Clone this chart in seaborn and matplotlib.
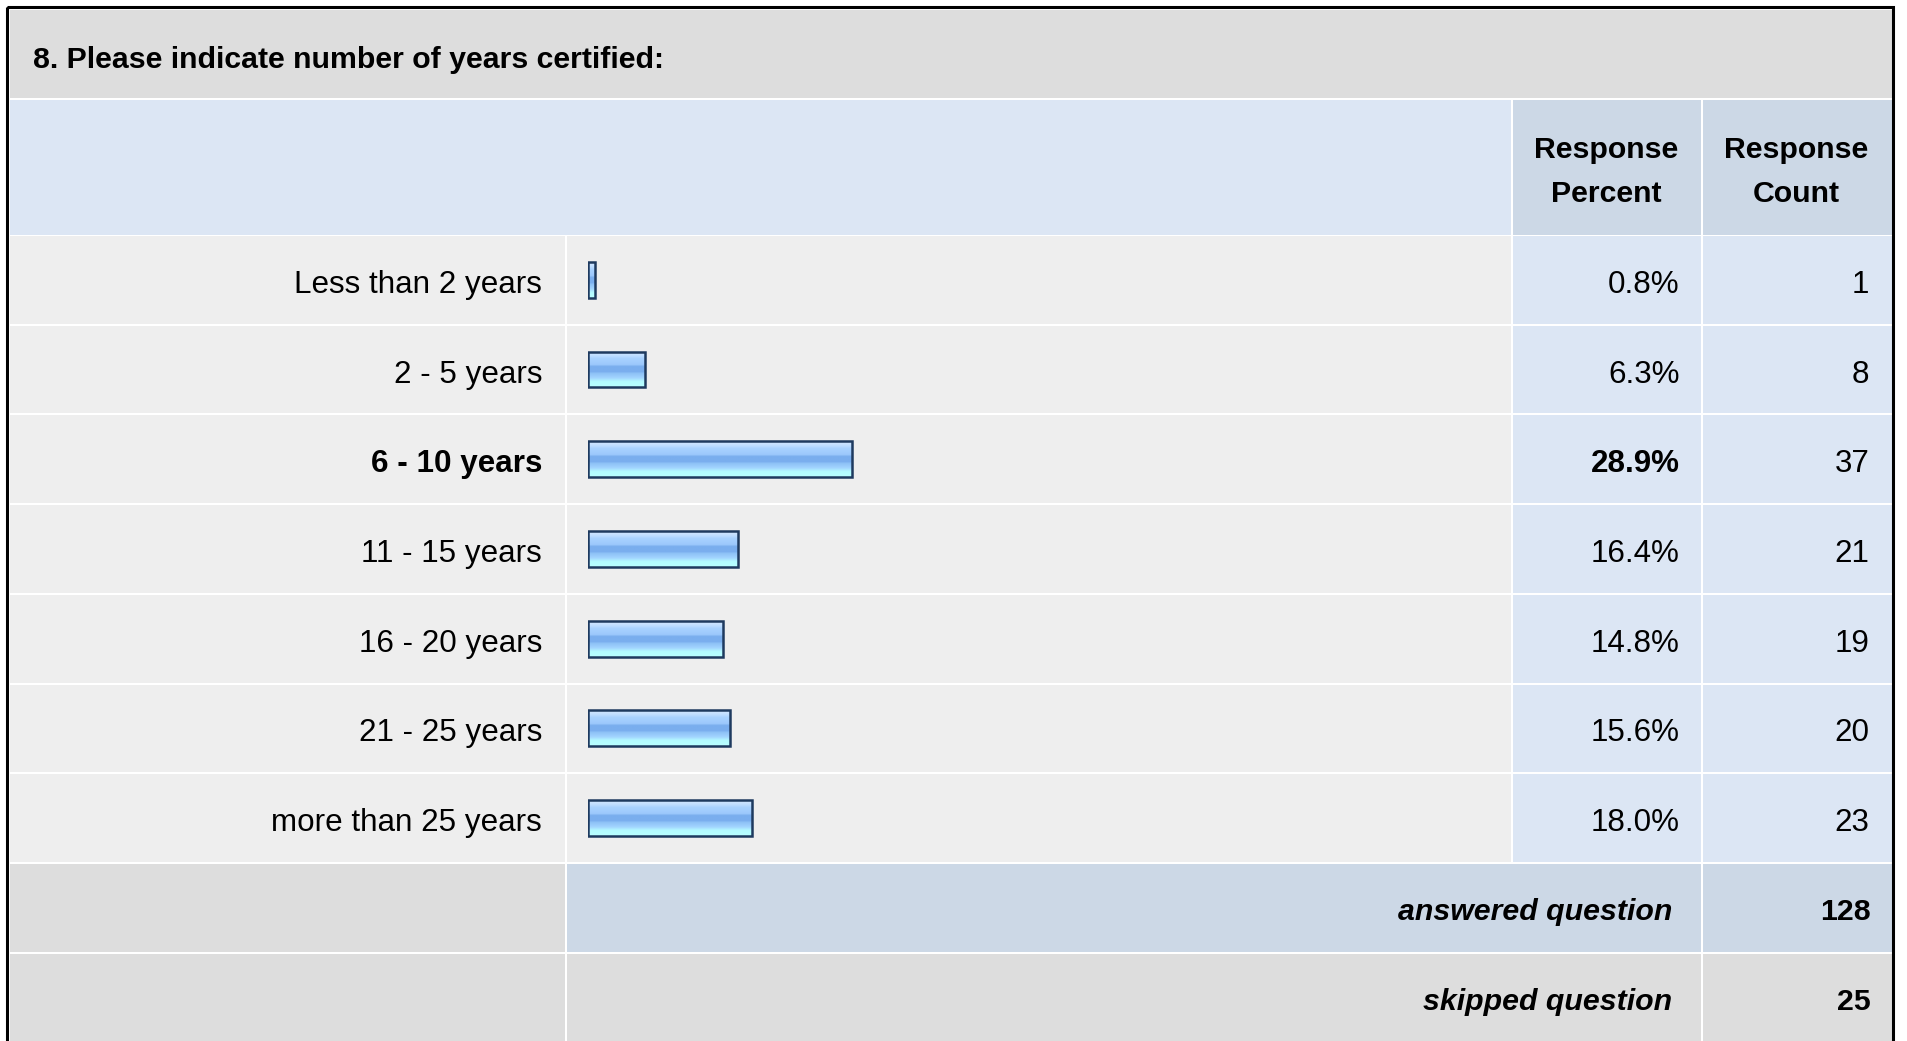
import numpy as np
import pandas as pd
import matplotlib
matplotlib.use("Agg")
import matplotlib.pyplot as plt
from matplotlib.patches import Rectangle
from matplotlib.colors import to_rgb
import seaborn as sns

# ==========================================
# DATA
# ==========================================

question = "8. Please indicate number of years certified:"

categories = [
    "Less than 2 years",
    "2 - 5 years",
    "6 - 10 years",
    "11 - 15 years",
    "16 - 20 years",
    "21 - 25 years",
    "more than 25 years"
]

percents = [0.8, 6.3, 28.9, 16.4, 14.8, 15.6, 18.0]
counts = [1, 8, 37, 21, 19, 20, 23]

answered = 128
skipped = 25

header_percent = ["Response", "Percent"]
header_count = ["Response", "Count"]

df = pd.DataFrame({
    "category": categories,
    "percent": percents,
    "count": counts
})

# ==========================================
# STYLE
# ==========================================

sns.set_style("white")
plt.rcParams["font.family"] = ["Liberation Sans", "DejaVu Sans"]
plt.rcParams["text.color"] = "black"

W, H = 1907, 1041

GREY_DARK = "#DDDDDD"
GREY_LIGHT = "#EEEEEE"
BLUE_LIGHT = "#DCE6F4"
BLUE_MID = "#CCD8E6"
NAVY = "#1E3A5F"

fs_regular = 22.6
fs_bold = 21.8

fig = plt.figure(figsize=(W / 100, H / 100), dpi=100)
fig.patch.set_facecolor("white")

# background axes in pixel coordinates (origin top-left)
ax0 = fig.add_axes([0, 0, 1, 1])
ax0.set_xlim(0, W)
ax0.set_ylim(H, 0)
ax0.axis("off")


def cell(x0, x1, y0, y1, color):
    ax0.add_patch(
        Rectangle((x0, y0), x1 - x0, y1 - y0,
                  facecolor=color, edgecolor="none", zorder=1)
    )


def txt(x, y, s, ha="right", weight="normal", style="normal", size=fs_regular):
    ax0.text(x, y, s, fontsize=size, fontweight=weight, fontstyle=style,
             ha=ha, va="baseline", color="black", zorder=3)


# column edges
X_LEFT = 10
X_LABEL = 565
X_BAR0 = 567
X_BAR1 = 1510.5
X_PCT0 = 1512.5
X_PCT1 = 1700.5
X_CNT0 = 1702.5
X_RIGHT = 1891.5

X_TXT_LABEL = 542
X_TXT_PCT = 1679.5
X_TXT_CNT = 1869.5

# ==========================================
# TITLE + HEADER
# ==========================================

cell(X_LEFT, X_RIGHT, 9.5, 97.5, GREY_DARK)
txt(33, 68, question, ha="left", weight="bold", size=fs_bold)

cell(X_LEFT, X_BAR1, 99.5, 234.5, BLUE_LIGHT)
cell(X_PCT0, X_PCT1, 99.5, 234.5, BLUE_MID)
cell(X_CNT0, X_RIGHT, 99.5, 234.5, BLUE_MID)

for k, yb in enumerate([157.5, 202.5]):
    txt(1606, yb, header_percent[k], ha="center", weight="bold", size=fs_bold)
    txt(1796, yb, header_count[k], ha="center", weight="bold", size=fs_bold)

# ==========================================
# DATA ROWS
# ==========================================

ROW_TOP = 236
ROW_STEP = 89.7
ROW_H = 87.7

max_pct = max(percents)

for i, row in df.iterrows():
    y0 = ROW_TOP + i * ROW_STEP
    y1 = y0 + ROW_H
    yb = (y0 + y1) / 2 + 13

    cell(X_LEFT, X_LABEL, y0, y1, GREY_LIGHT)
    cell(X_BAR0, X_BAR1, y0, y1, GREY_LIGHT)
    cell(X_PCT0, X_PCT1, y0, y1, BLUE_LIGHT)
    cell(X_CNT0, X_RIGHT, y0, y1, BLUE_LIGHT)

    weight = "bold" if row["percent"] == max_pct else "normal"

    txt(X_TXT_LABEL, yb, row["category"], weight=weight)
    txt(X_TXT_PCT, yb, f"{row['percent']:.1f}%", weight=weight)
    txt(X_TXT_CNT, yb, f"{row['count']}")

# ==========================================
# ANSWERED / SKIPPED
# ==========================================

cell(X_LEFT, X_LABEL, 864, 951.5, GREY_DARK)
cell(X_BAR0, X_PCT1, 864, 951.5, BLUE_MID)
cell(X_CNT0, X_RIGHT, 864, 951.5, BLUE_MID)

cell(X_LEFT, X_LABEL, 953.5, H + 5, GREY_DARK)
cell(X_BAR0, X_PCT1, 953.5, H + 5, GREY_DARK)
cell(X_CNT0, X_RIGHT, 953.5, H + 5, GREY_DARK)

txt(1672, 920.5, "answered question", weight="bold", style="italic", size=fs_bold)
txt(1870.5, 920.5, f"{answered}", weight="bold", size=fs_bold)

txt(1672, 1010.5, "skipped question", weight="bold", style="italic", size=fs_bold)
txt(1870.5, 1010.5, f"{skipped}", weight="bold", size=fs_bold)

# outer black frame
ax0.add_patch(
    Rectangle((7, 7), 1886, H + 20, facecolor="none",
              edgecolor="black", linewidth=2.2, zorder=4)
)

# ==========================================
# BARS (seaborn)
# ==========================================

BAR_X0 = 588
BAR_SCALE = 9.12  # px per percent
axb_top = ROW_TOP - 1
axb_bottom = ROW_TOP - 1 + ROW_STEP * len(categories)

axb = fig.add_axes([
    BAR_X0 / W,
    1 - axb_bottom / H,
    BAR_SCALE * 100 / W,
    (axb_bottom - axb_top) / H
])
axb.patch.set_alpha(0)

sns.barplot(
    data=df,
    x="percent",
    y="category",
    orient="h",
    order=categories,
    width=0.40,
    color="#9ECAFA",
    ax=axb
)

axb.set_xlim(0, 100)
axb.set_ylim(len(categories) - 0.5, -0.5)
axb.axis("off")

# glossy vertical gradient inside each bar
stops = [
    (0.00, "#D2E8FF"),
    (0.10, "#C4E0FF"),
    (0.20, "#A8D2FF"),
    (0.38, "#9CC8FC"),
    (0.42, "#7AAEEE"),
    (0.58, "#7AAEEE"),
    (0.62, "#8EC2F6"),
    (0.75, "#A2D4FF"),
    (0.85, "#B4FCFF"),
    (1.00, "#B8FFFF")
]
pos = np.array([s[0] for s in stops])
cols = np.array([to_rgb(s[1]) for s in stops])
t = np.linspace(0, 1, 64)
grad = np.stack([np.interp(t, pos, cols[:, k]) for k in range(3)], axis=-1)
grad = grad[:, None, :]

for patch in list(axb.patches):
    x0, y0 = patch.get_x(), patch.get_y()
    w, h = patch.get_width(), patch.get_height()
    im = axb.imshow(
        grad,
        extent=(x0, x0 + w, y0 + h, y0),
        origin="upper",
        aspect="auto",
        interpolation="bilinear",
        zorder=2
    )
    im.set_clip_path(patch)
    patch.set_facecolor("none")
    patch.set_edgecolor(NAVY)
    patch.set_linewidth(1.8)
    patch.set_zorder(3)

axb.set_xlim(0, 100)
axb.set_ylim(len(categories) - 0.5, -0.5)

plt.savefig("out.png", dpi=100, facecolor="white")
plt.close()
